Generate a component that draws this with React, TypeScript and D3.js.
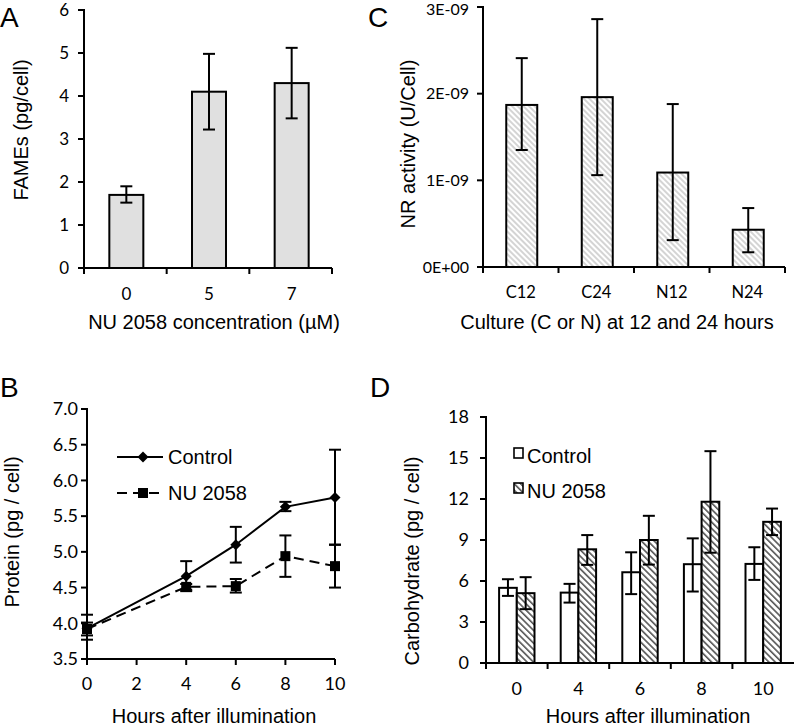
import React from "react";
import { scaleLinear, scaleBand, line, range } from "d3";

// Panel A: FAMEs
const fameConc = ["0", "5", "7"];
const fameMean = [1.7, 4.1, 4.3];
const fameLow = [1.52, 3.22, 3.48];
const fameHigh = [1.9, 4.98, 5.12];
const fameTicks = [0, 1, 2, 3, 4, 5, 6];

// Panel C: NR activity
const nrCultures = ["C12", "C24", "N12", "N24"];
const nrMean = [1.87e-9, 1.96e-9, 1.09e-9, 0.43e-9];
const nrLow = [1.35e-9, 1.06e-9, 0.31e-9, 0.17e-9];
const nrHigh = [2.41e-9, 2.86e-9, 1.88e-9, 0.68e-9];
const nrTicks = [0, 1e-9, 2e-9, 3e-9];
const nrTickLabels = ["0E+00", "1E-09", "2E-09", "3E-09"];

// Panel B: protein
const protHours = [0, 4, 6, 8, 10];
const protControl = [3.93, 4.66, 5.1, 5.63, 5.76];
const protControlLow = [3.77, 4.45, 4.85, 5.57, 5.1];
const protControlHigh = [4.12, 4.87, 5.35, 5.7, 6.43];
const protNu = [3.92, 4.51, 4.52, 4.94, 4.8];
const protNuLow = [3.83, 4.47, 4.43, 4.65, 4.5];
const protNuHigh = [4.01, 4.55, 4.62, 5.23, 5.1];
const protXTicks = [0, 2, 4, 6, 8, 10];
const protYTicks = [3.5, 4, 4.5, 5, 5.5, 6, 6.5, 7];

// Panel D: carbohydrate
const carbHours = ["0", "4", "6", "8", "10"];
const carbControl = [5.5, 5.15, 6.64, 7.23, 7.25];
const carbControlLow = [4.91, 4.42, 5.04, 5.23, 6.08];
const carbControlHigh = [6.13, 5.79, 8.1, 9.12, 8.47];
const carbNu = [5.11, 8.32, 9.0, 11.8, 10.33];
const carbNuLow = [3.94, 7.18, 7.2, 8.07, 9.36];
const carbNuHigh = [6.28, 9.36, 10.77, 15.5, 11.3];
const carbTicks = [0, 3, 6, 9, 12, 15, 18];

const tickFont = "Lato, 'Open Sans', sans-serif";
const titleFont = "'Liberation Sans', Arial, sans-serif";
const SW = 2;

const ErrBar = ({ x, y1, y2, w = 12 }) => (
  <g stroke="#000" strokeWidth={SW}>
    <line x1={x} x2={x} y1={y1} y2={y2} />
    <line x1={x - w / 2} x2={x + w / 2} y1={y1} y2={y1} />
    <line x1={x - w / 2} x2={x + w / 2} y1={y2} y2={y2} />
  </g>
);

const YAxis = ({ x, y, ticks, labels, gap, size, topShift = 0 }) => (
  <g>
    <line x1={x} x2={x} y1={y.range()[1] - 1} y2={y.range()[0] + 1} stroke="#000" strokeWidth={SW} />
    {ticks.map((t, i) => (
      <g key={i}>
        <line x1={x - 6} x2={x} y1={y(t)} y2={y(t)} stroke="#000" strokeWidth={SW} />
        <text x={x - gap} y={y(t) + (i === ticks.length - 1 ? topShift : 0)} dy="0.35em" textAnchor="end" fontFamily={tickFont} fontSize={size}>
          {labels[i]}
        </text>
      </g>
    ))}
  </g>
);

const XAxisLine = ({ y, x1, x2, tickXs }) => (
  <g stroke="#000" strokeWidth={SW}>
    <line x1={x1} x2={x2} y1={y} y2={y} />
    {tickXs.map((tx, i) => (
      <line key={i} x1={tx} x2={tx} y1={y} y2={y + 6} />
    ))}
  </g>
);

const Letter = ({ x, y, c }) => (
  <text x={x} y={y} fontFamily={titleFont} fontSize={28}>{c}</text>
);

const YTitle = ({ cx, cy, text }) => (
  <text transform={`translate(${cx},${cy}) rotate(-90)`} dy="0.35em" textAnchor="middle" fontFamily={titleFont} fontSize={20}>
    {text}
  </text>
);

const XTitle = ({ cx, y, text }) => (
  <text x={cx} y={y} textAnchor="middle" fontFamily={titleFont} fontSize={20}>{text}</text>
);

const PanelA = () => {
  const x = scaleBand().domain(fameConc).range([84, 332]);
  const y = scaleLinear().domain([0, 6]).range([268, 10]);
  const bw = 34;
  const bounds = range(fameConc.length + 1).map((i) => 84 + i * x.step());
  return (
    <g>
      <Letter x={0} y={27} c="A" />
      {fameConc.map((c, i) => {
        const cx = x(c) + x.bandwidth() / 2 + 1;
        return (
          <g key={c}>
            <rect x={cx - bw / 2} y={y(fameMean[i])} width={bw} height={y(0) - y(fameMean[i])} fill="#e0e0e0" stroke="#000" strokeWidth={SW} />
            <ErrBar x={cx} y1={y(fameHigh[i])} y2={y(fameLow[i])} />
            <text x={cx} y={300} textAnchor="middle" fontFamily={tickFont} fontSize={17}>{c}</text>
          </g>
        );
      })}
      <XAxisLine y={y(0)} x1={84} x2={332} tickXs={bounds} />
      <YAxis x={84} y={y} ticks={fameTicks} labels={fameTicks.map(String)} gap={15} size={17} />
      <YTitle cx={21} cy={130} text="FAMEs (pg/cell)" />
      <XTitle cx={214} y={329} text="NU 2058 concentration (µM)" />
    </g>
  );
};

const PanelC = () => {
  const x = scaleBand().domain(nrCultures).range([483, 785]);
  const y = scaleLinear().domain([0, 3e-9]).range([267, 7]);
  const bw = 31;
  const bounds = range(nrCultures.length + 1).map((i) => 483 + i * x.step());
  return (
    <g>
      <Letter x={368} y={27} c="C" />
      {nrCultures.map((c, i) => {
        const cx = x(c) + x.bandwidth() / 2 + 1;
        return (
          <g key={c}>
            <rect x={cx - bw / 2} y={y(nrMean[i])} width={bw} height={y(0) - y(nrMean[i])} fill="url(#hatchLight)" stroke="#000" strokeWidth={SW} />
            <ErrBar x={cx} y1={y(nrHigh[i])} y2={y(nrLow[i])} />
            <text x={cx - 1} y={298} textAnchor="middle" fontFamily={tickFont} fontSize={16.5}>{c}</text>
          </g>
        );
      })}
      <XAxisLine y={y(0)} x1={483} x2={785} tickXs={bounds} />
      <YAxis x={483} y={y} ticks={nrTicks} labels={nrTickLabels} gap={14} size={16} topShift={2} />
      <YTitle cx={408} cy={144} text="NR activity (U/Cell)" />
      <XTitle cx={617} y={329} text="Culture (C or N) at 12 and 24 hours" />
    </g>
  );
};

const PanelB = () => {
  const x = scaleLinear().domain([0, 10]).range([87, 335]);
  const y = scaleLinear().domain([3.5, 7]).range([659, 409]);
  const ctrlLine = line().x((d) => x(d[0])).y((d) => y(d[1]));
  const ctrlPts = protHours.map((h, i) => [h, protControl[i]]);
  const nuPts = protHours.map((h, i) => [h, protNu[i]]);
  const diamond = (cx, cy, r = 5.5) => `M${cx},${cy - r}L${cx + r},${cy}L${cx},${cy + r}L${cx - r},${cy}Z`;
  return (
    <g>
      <Letter x={0} y={397} c="B" />
      <YAxis x={87} y={y} ticks={protYTicks} labels={protYTicks.map((t) => t.toFixed(1))} gap={9} size={18} />
      <XAxisLine y={y(3.5)} x1={87} x2={335} tickXs={protXTicks.map(x)} />
      {protXTicks.map((t) => (
        <text key={t} x={x(t)} y={690} textAnchor="middle" fontFamily={tickFont} fontSize={18}>{t}</text>
      ))}
      {protHours.map((h, i) => (
        <g key={h}>
          <ErrBar x={x(h)} y1={y(protControlHigh[i])} y2={y(protControlLow[i])} />
          <ErrBar x={x(h)} y1={y(protNuHigh[i])} y2={y(protNuLow[i])} />
        </g>
      ))}
      <path d={ctrlLine(ctrlPts)} fill="none" stroke="#000" strokeWidth={SW} />
      <path d={ctrlLine(nuPts)} fill="none" stroke="#000" strokeWidth={SW} strokeDasharray="10,6" />
      {ctrlPts.map((p, i) => (
        <path key={i} d={diamond(x(p[0]), y(p[1]))} fill="#000" />
      ))}
      {nuPts.map((p, i) => (
        <rect key={i} x={x(p[0]) - 5} y={y(p[1]) - 5} width={10} height={10} fill="#000" />
      ))}
      {/* legend */}
      <line x1={117} x2={163} y1={457} y2={457} stroke="#000" strokeWidth={SW} />
      <path d={diamond(143, 457)} fill="#000" />
      <text x={168} y={457} dy="0.35em" fontFamily={titleFont} fontSize={20}>Control</text>
      <line x1={117} x2={163} y1={493} y2={493} stroke="#000" strokeWidth={SW} strokeDasharray="10,6" />
      <rect x={138} y={488} width={10} height={10} fill="#000" />
      <text x={168} y={493} dy="0.35em" fontFamily={titleFont} fontSize={20}>NU 2058</text>
      <YTitle cx={12} cy={532} text="Protein (pg / cell)" />
      <XTitle cx={214} y={723} text="Hours after illumination" />
    </g>
  );
};

const PanelD = () => {
  const x = scaleBand().domain(carbHours).range([486, 794]);
  const y = scaleLinear().domain([0, 18]).range([663, 417]);
  const bw = 17.7;
  const bounds = range(carbHours.length).map((i) => 486 + i * x.step());
  return (
    <g>
      <Letter x={370} y={397} c="D" />
      {carbHours.map((c, i) => {
        const cx = x(c) + x.bandwidth() / 2;
        return (
          <g key={c}>
            <rect x={cx - bw} y={y(carbControl[i])} width={bw} height={y(0) - y(carbControl[i])} fill="#fff" stroke="#000" strokeWidth={SW} />
            <rect x={cx} y={y(carbNu[i])} width={bw} height={y(0) - y(carbNu[i])} fill="url(#hatchDark)" stroke="#000" strokeWidth={SW} />
            <ErrBar x={cx - bw / 2} y1={y(carbControlHigh[i])} y2={y(carbControlLow[i])} />
            <ErrBar x={cx + bw / 2} y1={y(carbNuHigh[i])} y2={y(carbNuLow[i])} />
            <text x={cx} y={695} textAnchor="middle" fontFamily={tickFont} fontSize={18}>{c}</text>
          </g>
        );
      })}
      <XAxisLine y={y(0)} x1={486} x2={794} tickXs={bounds} />
      <YAxis x={486} y={y} ticks={carbTicks} labels={carbTicks.map(String)} gap={17} size={18} />
      {/* legend */}
      <rect x={514} y={448} width={9} height={10} fill="#fff" stroke="#000" strokeWidth={1.6} />
      <text x={527} y={456} dy="0.35em" fontFamily={titleFont} fontSize={20}>Control</text>
      <rect x={514} y={483} width={9} height={10} fill="url(#hatchDark)" stroke="#000" strokeWidth={1.6} />
      <text x={527} y={491} dy="0.35em" fontFamily={titleFont} fontSize={20}>NU 2058</text>
      <YTitle cx={412} cy={561} text="Carbohydrate (pg / cell)" />
      <XTitle cx={648} y={723} text="Hours after illumination" />
    </g>
  );
};

export default function App() {
  return (
    <svg width={795} height={728} style={{ position: "absolute", left: 0, top: 0, background: "#fff" }}>
      <defs>
        <pattern id="hatchLight" width={4} height={4} patternUnits="userSpaceOnUse" patternTransform="rotate(45)">
          <rect width={4} height={4} fill="#fff" />
          <line x1={0} x2={4} y1={1} y2={1} stroke="#b8b8b8" strokeWidth={1.2} />
        </pattern>
        <pattern id="hatchDark" width={4.5} height={4.5} patternUnits="userSpaceOnUse" patternTransform="rotate(45)">
          <rect width={4.5} height={4.5} fill="#fff" />
          <line x1={0} x2={4.5} y1={1} y2={1} stroke="#555" strokeWidth={1.6} />
        </pattern>
      </defs>
      <rect width={795} height={728} fill="#fff" />
      <PanelA />
      <PanelC />
      <PanelB />
      <PanelD />
    </svg>
  );
}
